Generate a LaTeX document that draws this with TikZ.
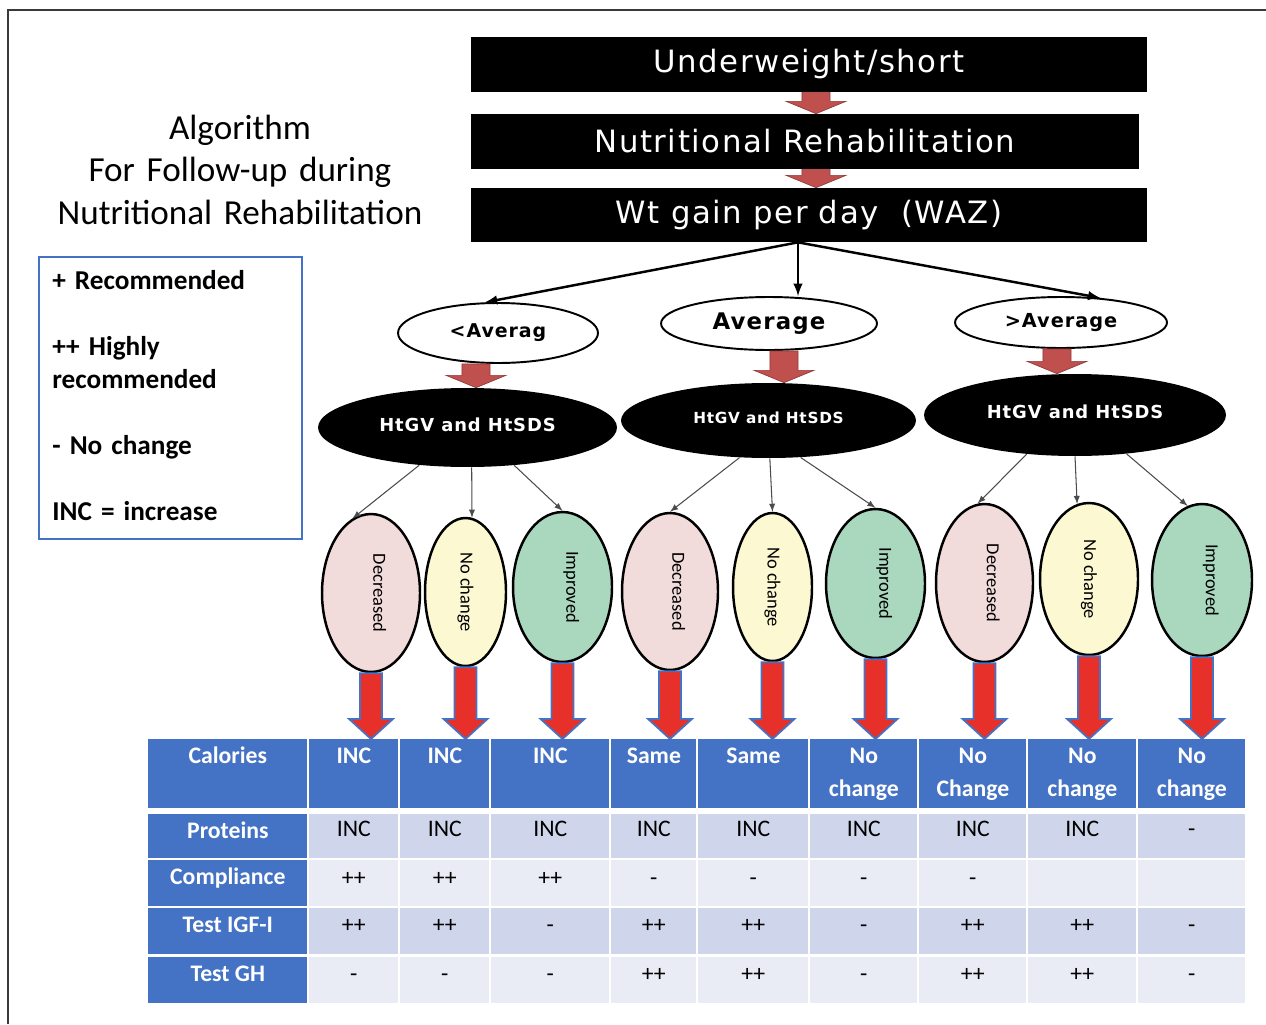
\documentclass[tikz,border=0pt]{standalone}
\usepackage{fontspec}
\usepackage{tikz, graphicx}
\setmainfont{Carlito}
\newfontfamily\wfont[LetterSpace=5]{DejaVu Sans}
\usetikzlibrary{positioning,arrows,calc,shapes.geometric}
\definecolor{pinkfill}{HTML}{F2DCDB}
\definecolor{creamfill}{HTML}{FBF8D2}
\definecolor{mintfill}{HTML}{A9D8BE}
\definecolor{tblblue}{HTML}{4472C4}
\definecolor{rowdark}{HTML}{CFD5EA}
\definecolor{rowlight}{HTML}{E9EBF5}
\definecolor{brightred}{HTML}{E8302A}
\definecolor{brick}{HTML}{C0504D}
\definecolor{framegray}{HTML}{3A3A3A}
\tikzset{
    blackbox/.style={rectangle, fill=black, text=white, minimum height=1.1cm, inner sep=0pt, font=\wfont\fontsize{17.5}{20}\selectfont},
    oval/.style={ellipse, draw=black, line width=1.1pt, fill=white, inner sep=0pt},
    blackoval/.style={ellipse, fill=black, text=white, inner sep=0pt},
    result/.style={ellipse, draw=black, line width=1.4pt, inner sep=0pt, font=\fontsize{10.5}{12}\selectfont},
    decreased/.style={result, fill=pinkfill, execute at begin node=\hspace*{10pt}},
    nochange/.style={result, fill=creamfill},
    improved/.style={result, fill=mintfill, execute at begin node=\hspace*{10pt}},
    headcell/.style={rectangle, fill=tblblue, inner sep=0pt, anchor=north west},
    darkcell/.style={rectangle, fill=rowdark, inner sep=0pt, anchor=north west},
    lightcell/.style={rectangle, fill=rowlight, inner sep=0pt, anchor=north west},
    headtext/.style={text=white, font=\bfseries\fontsize{13.5}{18.8}\selectfont, anchor=base, align=center, inner sep=0pt},
    celltext/.style={font=\fontsize{13.5}{16}\selectfont, anchor=base, inner sep=0pt},
    split/.style={->, line width=1.4pt},
    fan/.style={->, draw=black!70, line width=0.6pt},
    redblock/.style={fill=brightred, draw=tblblue, line width=1pt},
    brickblock/.style={fill=brick, draw=brick!75!black, line width=0.4pt},
    legendbox/.style={rectangle, draw=tblblue, line width=1pt, inner sep=0pt, anchor=north west}
}
\newcommand{\blockdown}[6]{%
    \draw[#1] let \p1=(#2), \p2=(#3) in
        (\x1-#4,\y1) -- (\x1+#4,\y1) -- (\x1+#4,\y2+#6) -- (\x1+#5,\y2+#6)
        -- (\x1,\y2) -- (\x1-#5,\y2+#6) -- (\x1-#4,\y2+#6) -- cycle;}

\begin{document}
\begin{tikzpicture}[x=0.02cm,y=-0.02cm,>=latex]
	\useasboundingbox (0,0) rectangle (1266,1024);
	\draw[framegray, line width=1pt] (8,1024) -- (8,10) -- (1266,10);

	\node[align=center, text width=8cm, anchor=base, inner sep=0pt, font=\fontsize{20}{24.4}\selectfont] (title) at (240,139) {Algorithm\\For Follow-up during\\Nutritional Rehabilitation};
	\node[legendbox, minimum width=5.26cm, minimum height=5.64cm] (key) at (38,256) {};
	\node[align=left, text width=4.9cm, anchor=base west, inner sep=0pt, font=\bfseries\fontsize{15.5}{18.8}\selectfont] (keytext) at (52,289) {+ Recommended\\[18.8pt]++ Highly\\recommended\\[18.8pt]- No change\\[18.8pt]INC = increase};

	\node[blackbox, minimum width=13.52cm] (under) at (809,64.5) {Underweight/short};
	\node[blackbox, minimum width=13.36cm] (rehab) at (805,141.5) {Nutritional Rehabilitation};
	\node[blackbox, minimum width=13.52cm, minimum height=1.08cm] (wtgain) at (809,215) {Wt gain per day\ \ (WAZ)};
	\blockdown{brickblock}{$(under.south)+(7,0)$}{rehab.north}{8pt}{17pt}{7pt}
	\blockdown{brickblock}{$(rehab.south)+(11,0)$}{wtgain.north}{8pt}{17pt}{7pt}

	\node[oval, minimum width=4cm, minimum height=1.2cm, font=\wfont\bfseries\fontsize{10.8}{12}\selectfont] (low) at (498,333) {<Averag};
	\node[oval, minimum width=4.32cm, minimum height=1.06cm, font=\wfont\bfseries\fontsize{13}{15}\selectfont] (avg) at (769,323.5) {Average};
	\node[oval, minimum width=4.24cm, minimum height=1.02cm, font=\wfont\bfseries\fontsize{11}{13}\selectfont] (high) at (1061,322.5) {>Average};
	\coordinate (fork) at ($(wtgain.south)+(-11,0)$);
	\draw[split] (fork) -- (low.113);
	\draw[split] (fork) -- (fork |- avg.north);
	\draw[split] (fork) -- (high.32);

	\node[blackoval, minimum width=5.98cm, minimum height=1.58cm, font=\wfont\bfseries\fontsize{10.2}{12}\selectfont] (lowht) at (467.5,427.5) {\raisebox{3.5pt}{HtGV and HtSDS}};
	\node[blackoval, minimum width=5.9cm, minimum height=1.5cm, font=\wfont\bfseries\fontsize{8.7}{10}\selectfont] (avght) at (768.5,420.5) {\raisebox{3.5pt}{HtGV and HtSDS}};
	\node[blackoval, minimum width=6.04cm, minimum height=1.64cm, font=\wfont\bfseries\fontsize{10.2}{12}\selectfont] (hiht) at (1075,415) {\raisebox{4pt}{HtGV and HtSDS}};
	\blockdown{brickblock}{$(low.south)+(-22,0)$}{lowht.north}{8pt}{17pt}{7pt}
	\blockdown{brickblock}{$(avg.south)+(15,0)$}{avght.north}{8pt}{17pt}{7pt}
	\blockdown{brickblock}{$(high.south)+(-4,0)$}{hiht.north}{8pt}{17pt}{7pt}

	\node[decreased, minimum width=1.96cm, minimum height=3.16cm] (lowdec) at (371,593) {\rotatebox{-90}{Decreased}};
	\node[nochange, minimum width=1.62cm, minimum height=2.96cm] (lownc) at (465.5,592) {\rotatebox{-90}{No change}};
	\node[improved, minimum width=1.98cm, minimum height=3cm] (lowimp) at (562.5,587) {\rotatebox{-90}{Improved}};
	\node[decreased, minimum width=1.92cm, minimum height=3.14cm] (avgdec) at (670,591.5) {\rotatebox{-90}{Decreased}};
	\node[nochange, minimum width=1.58cm, minimum height=2.96cm] (avgnc) at (772.5,587) {\rotatebox{-90}{No change}};
	\node[improved, minimum width=1.98cm, minimum height=2.98cm] (avgimp) at (875.5,583.5) {\rotatebox{-90}{Improved}};
	\node[decreased, minimum width=1.94cm, minimum height=3.16cm] (hidec) at (984.5,583) {\rotatebox{-90}{Decreased}};
	\node[nochange, minimum width=1.96cm, minimum height=3.04cm] (hinc) at (1089,579) {\rotatebox{-90}{No change}};
	\node[improved, minimum width=2cm, minimum height=3.04cm] (hiimp) at (1202,580) {\rotatebox{-90}{Improved}};
	\draw[fan] (lowht.218) -- (lowdec.104);
	\draw[fan] (lowht.276) -- (lownc.85);
	\draw[fan] (lowht.321) -- (lowimp.north);
	\draw[fan] (avght.232) -- (avgdec.north);
	\draw[fan] (avght.272) -- (avgnc.north);
	\draw[fan] (avght.311) -- (avgimp.north);
	\draw[fan] (hiht.219) -- (hidec.95);
	\draw[fan] (hiht.south) -- (hinc.99);
	\draw[fan] (hiht.323) -- (hiimp.101);

	\node[headcell, minimum width=3.18cm, minimum height=1.38cm] (cal0) at (148,739) {};
	\node[headtext] at ($(cal0.north)+(0,24)$) {Calories};
	\foreach \r/\y/\h/\t in {pro/814/0.88/Proteins, com/860/0.92/Compliance, igf/908/0.92/Test IGF-I, gh/957/0.92/Test GH}{
		\node[headcell, minimum width=3.18cm, minimum height=\h cm] (\r0) at (148,\y) {};
		\node[headtext] at ($(\r0.north)+(0,24)$) {\t};
	}
	\foreach \n/\x/\w/\cal/\pro/\com/\igf/\gh in {
		1/309/89/INC/INC/++/++/-,
		2/400/89/INC/INC/++/++/-,
		3/491/118/INC/INC/++/-/-,
		4/611/85/Same/INC/-/++/++,
		5/698/110/Same/INC/-/++/++,
		6/810/107/{No\\change}/INC/-/-/-,
		7/919/107/{No\\Change}/INC/-/++/++,
		8/1028/108/{No\\change}/INC/{}/++/++,
		9/1138/107/{No\\change}/-/{}/-/-}{
		\pgfmathsetlengthmacro\tw{\w*0.02cm}
		\node[headcell, minimum width=\tw, minimum height=1.38cm] (cal\n) at (\x,739) {};
		\node[headtext, text width=\tw] at ($(cal\n.north)+(0,24)$) {\cal};
		\node[darkcell, minimum width=\tw, minimum height=0.88cm] (pro\n) at (\x,814) {};
		\node[celltext] at ($(pro\n.north)+(0,22)$) {\pro};
		\node[lightcell, minimum width=\tw, minimum height=0.92cm] (com\n) at (\x,860) {};
		\node[celltext] at ($(com\n.north)+(0,25)$) {\com};
		\node[darkcell, minimum width=\tw, minimum height=0.92cm] (igf\n) at (\x,908) {};
		\node[celltext] at ($(igf\n.north)+(0,24)$) {\igf};
		\node[lightcell, minimum width=\tw, minimum height=0.92cm] (gh\n) at (\x,957) {};
		\node[celltext] at ($(gh\n.north)+(0,24)$) {\gh};
	}

	\blockdown{redblock}{lowdec.south}{cal1.north}{6.3pt}{12.5pt}{11.4pt}
	\blockdown{redblock}{lownc.south}{cal2.north}{6.3pt}{12.5pt}{11.4pt}
	\blockdown{redblock}{lowimp.south}{cal3.north}{6.3pt}{12.5pt}{11.4pt}
	\blockdown{redblock}{avgdec.south}{cal4.north}{6.3pt}{12.5pt}{11.4pt}
	\blockdown{redblock}{avgnc.south}{cal5.north}{6.3pt}{12.5pt}{11.4pt}
	\blockdown{redblock}{avgimp.south}{cal6.north}{6.3pt}{12.5pt}{11.4pt}
	\blockdown{redblock}{hidec.south}{cal7.north}{6.3pt}{12.5pt}{11.4pt}
	\blockdown{redblock}{hinc.south}{cal8.north}{6.3pt}{12.5pt}{11.4pt}
	\blockdown{redblock}{hiimp.south}{cal9.north}{6.3pt}{12.5pt}{11.4pt}
\end{tikzpicture}
\end{document}
